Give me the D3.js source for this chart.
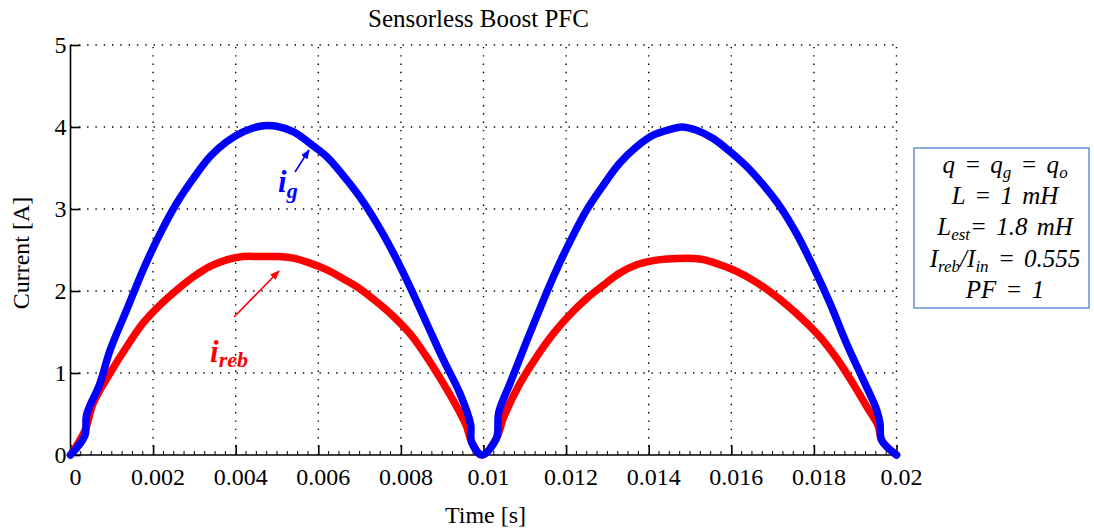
<!DOCTYPE html>
<html>
<head>
<meta charset="utf-8">
<script src="https://cdn.jsdelivr.net/npm/d3@7"></script>
<style>
  html, body { margin: 0; padding: 0; background: #fff; }
  svg { display: block; font-family: "Liberation Serif", "Times New Roman", serif; }
</style>
</head>
<body>
<svg id="chart" width="1094" height="531"></svg>
<script>
// Grid current i_g (blue) over two half-cycles
const tG = [0, 0.00035, 0.00039, 0.00071, 0.00096, 0.00136, 0.00176, 0.00217, 0.00257, 0.00297,
  0.00338, 0.00378, 0.00418, 0.00459, 0.00499, 0.0054, 0.0058, 0.0062, 0.0066, 0.0070,
  0.00741, 0.00782, 0.00822, 0.00862, 0.00903, 0.00943, 0.00969, 0.00971, 0.00996, 0.01031,
  0.01037, 0.01064, 0.01096, 0.01129, 0.01169, 0.01209, 0.0125, 0.0129, 0.0133, 0.01371,
  0.01411, 0.01452, 0.0148, 0.01516, 0.01556, 0.01597, 0.01637, 0.01678, 0.01718, 0.01758,
  0.01798, 0.01839, 0.01879, 0.0192, 0.01952, 0.0196, 0.01964, 0.0200];
const iG = [0, 0.24, 0.49, 0.87, 1.28, 1.77, 2.26, 2.70, 3.07, 3.37,
  3.64, 3.82, 3.94, 4.01, 4.01, 3.94, 3.80, 3.64, 3.41, 3.15,
  2.83, 2.46, 2.05, 1.61, 1.16, 0.75, 0.37, 0.16, 0, 0.20,
  0.52, 0.87, 1.28, 1.69, 2.17, 2.60, 2.99, 3.29, 3.56, 3.76,
  3.90, 3.97, 4.00, 3.96, 3.86, 3.70, 3.52, 3.29, 3.03, 2.70,
  2.30, 1.85, 1.36, 0.91, 0.55, 0.39, 0.18, 0];

// Reconstructed current i_reb (red)
const tReb = [0, 0.00035, 0.00055, 0.00096, 0.00136, 0.00176, 0.00217, 0.00257, 0.00297, 0.00338,
  0.00378, 0.00418, 0.00459, 0.00507, 0.0054, 0.0058, 0.0062, 0.0066, 0.0070, 0.00741,
  0.00782, 0.00822, 0.00862, 0.00903, 0.00935, 0.00959, 0.00971, 0.00996, 0.01031, 0.01048,
  0.01088, 0.01129, 0.01169, 0.01209, 0.0125, 0.0129, 0.0133, 0.01371, 0.01411, 0.01444,
  0.01524, 0.01573, 0.01613, 0.01653, 0.01694, 0.01734, 0.01774, 0.01815, 0.01855, 0.01895,
  0.01928, 0.01956, 0.01964, 0.0200];
const iReb = [0, 0.30, 0.63, 1.0, 1.32, 1.61, 1.83, 2.01, 2.17, 2.30,
  2.38, 2.42, 2.42, 2.42, 2.40, 2.34, 2.26, 2.15, 2.03, 1.87,
  1.69, 1.48, 1.20, 0.87, 0.59, 0.35, 0.16, 0, 0.20, 0.45,
  0.87, 1.20, 1.48, 1.71, 1.91, 2.07, 2.22, 2.32, 2.37, 2.39,
  2.39, 2.32, 2.24, 2.13, 1.99, 1.83, 1.65, 1.44, 1.18, 0.87,
  0.59, 0.35, 0.18, 0];

const xTicks = [0, 0.002, 0.004, 0.006, 0.008, 0.01, 0.012, 0.014, 0.016, 0.018, 0.02];
const xTickLabels = ["0", "0.002", "0.004", "0.006", "0.008", "0.01", "0.012", "0.014", "0.016", "0.018", "0.02"];
const yTicks = [0, 1, 2, 3, 4, 5];
const yTickLabels = ["0", "1", "2", "3", "4", "5"];

const titleText = "Sensorless Boost PFC";
const xLabel = "Time [s]";
const yLabel = "Current [A]";

const svg = d3.select("#chart");
const plotLeft = 70.5, plotRight = 896.5, plotTop = 45, plotBottom = 455;

const x = d3.scaleLinear().domain([0, 0.02]).range([plotLeft, plotRight]);
const y = d3.scaleLinear().domain([0, 5]).range([plotBottom, plotTop]);

// dotted grid
const grid = svg.append("g").attr("stroke", "#000").attr("stroke-width", 1.4)
  .attr("stroke-dasharray", "1.4,6.9").attr("fill", "none");
grid.selectAll(".gx").data(xTicks.slice(1)).join("line")
  .attr("x1", d => x(d)).attr("x2", d => x(d)).attr("y1", plotBottom).attr("y2", plotTop);
grid.selectAll(".gy").data(yTicks.slice(1)).join("line")
  .attr("x1", plotLeft).attr("x2", plotRight).attr("y1", d => y(d)).attr("y2", d => y(d));

// minor ticks on the time axis
const minor = d3.range(0, 0.02 + 1e-9, 0.00025).filter(v => Math.abs(v / 0.002 - Math.round(v / 0.002)) > 1e-6);
svg.append("g").selectAll("line").data(minor).join("line")
  .attr("x1", d => x(d)).attr("x2", d => x(d)).attr("y1", plotBottom).attr("y2", plotBottom - 4)
  .attr("stroke", "#000").attr("stroke-width", 1);

// axes (ticks point inward)
const xAxis = d3.axisBottom(x).tickValues(xTicks).tickSize(-10).tickPadding(13)
  .tickFormat((d, i) => xTickLabels[i]);
const gx = svg.append("g").attr("transform", `translate(0,${plotBottom})`).call(xAxis);
gx.select(".domain").attr("d", `M${plotLeft},0H${plotRight}`);
const yAxis = d3.axisLeft(y).tickValues(yTicks).tickSize(-10).tickPadding(4)
  .tickFormat((d, i) => yTickLabels[i]);
const gy = svg.append("g").attr("transform", `translate(${plotLeft},0)`).call(yAxis);
gy.select(".domain").attr("d", `M0,${plotBottom}V${plotTop}`);
[gx, gy].forEach(g => {
  g.selectAll(".domain").attr("stroke", "#000").attr("stroke-width", 1.6);
  g.selectAll(".tick line").attr("stroke", "#000").attr("stroke-width", 1.6);
  g.selectAll("text").attr("font-family", "Liberation Serif, serif").attr("font-size", 24).attr("fill", "#000");
});
gx.selectAll("text").attr("dx", 4.5);

// curves
const line = d3.line().x(d => x(d[0])).y(d => y(d[1])).curve(d3.curveCatmullRom.alpha(0.5));
const rebPts = tReb.map((t, i) => [t, iReb[i]]);
const gPts = tG.map((t, i) => [t, iG[i]]);
svg.append("path").datum(rebPts).attr("d", line).attr("fill", "none")
  .attr("stroke", "#ff0000").attr("stroke-width", 7.5).attr("stroke-linejoin", "round").attr("stroke-linecap", "round");
svg.append("path").datum(gPts).attr("d", line).attr("fill", "none")
  .attr("stroke", "#0000ff").attr("stroke-width", 7.5).attr("stroke-linejoin", "round").attr("stroke-linecap", "round");

// titles
svg.append("text").attr("x", 478.5).attr("y", 27).attr("text-anchor", "middle")
  .attr("font-size", 25).text(titleText);
svg.append("text").attr("x", 485.5).attr("y", 523).attr("text-anchor", "middle")
  .attr("font-size", 24).text(xLabel);
svg.append("text").attr("transform", "translate(29,253) rotate(-90)").attr("text-anchor", "middle")
  .attr("font-size", 24).text(yLabel);

// arrow markers
const defs = svg.append("defs");
[["arrB", "#0000ff"], ["arrR", "#ff0000"]].forEach(([id, c]) => {
  defs.append("marker").attr("id", id).attr("viewBox", "0 0 10 10").attr("refX", 9).attr("refY", 5)
    .attr("markerWidth", 6).attr("markerHeight", 6).attr("orient", "auto-start-reverse")
    .append("path").attr("d", "M0,1 L10,5 L0,9 Z").attr("fill", c);
});

// i_g annotation
svg.append("line").attr("x1", 295).attr("y1", 172).attr("x2", 309).attr("y2", 150)
  .attr("stroke", "#0000ff").attr("stroke-width", 1.6).attr("marker-end", "url(#arrB)");
const tg = svg.append("text").attr("x", 278).attr("y", 192).attr("fill", "#0000ff")
  .attr("font-weight", "bold").attr("font-style", "italic");
tg.append("tspan").attr("font-size", 31).text("i");
tg.append("tspan").attr("font-size", 22).attr("dy", 6).text("g");

// i_reb annotation
svg.append("line").attr("x1", 234).attr("y1", 317).attr("x2", 279).attr("y2", 271)
  .attr("stroke", "#ff0000").attr("stroke-width", 1.6).attr("marker-end", "url(#arrR)");
const tr = svg.append("text").attr("x", 210).attr("y", 362).attr("fill", "#ff0000")
  .attr("font-weight", "bold").attr("font-style", "italic");
tr.append("tspan").attr("font-size", 31).text("i");
tr.append("tspan").attr("font-size", 22).attr("dy", 5).text("reb");

// parameter box
svg.append("rect").attr("x", 914).attr("y", 148).attr("width", 175).attr("height", 160)
  .attr("fill", "#fff").attr("stroke", "#5f93d8").attr("stroke-width", 1.5);
const boxLines = [
  [["q = q", 0], ["g", 1], [" = q", 0], ["o", 1]],
  [["L = 1 mH", 0]],
  [["L", 0], ["est", 1], ["= 1.8 mH", 0]],
  [["I", 0], ["reb", 1], ["/I", 0], ["in", 1], [" = 0.555", 0]],
  [["PF = 1", 0]]
];
const baselines = [173, 204, 235, 267, 298];
boxLines.forEach((parts, k) => {
  const t = svg.append("text").attr("x", 1005).attr("y", baselines[k]).attr("text-anchor", "middle")
    .attr("font-style", "italic").attr("font-size", 25).attr("word-spacing", 3).attr("fill", "#000");
  let sub = 0;
  parts.forEach(([s, isSub]) => {
    const span = t.append("tspan").text(s).attr("font-size", isSub ? 17 : 25);
    const shift = isSub ? 5 : 0;
    span.attr("dy", shift - sub);
    sub = shift;
  });
});
</script>
</body>
</html>
